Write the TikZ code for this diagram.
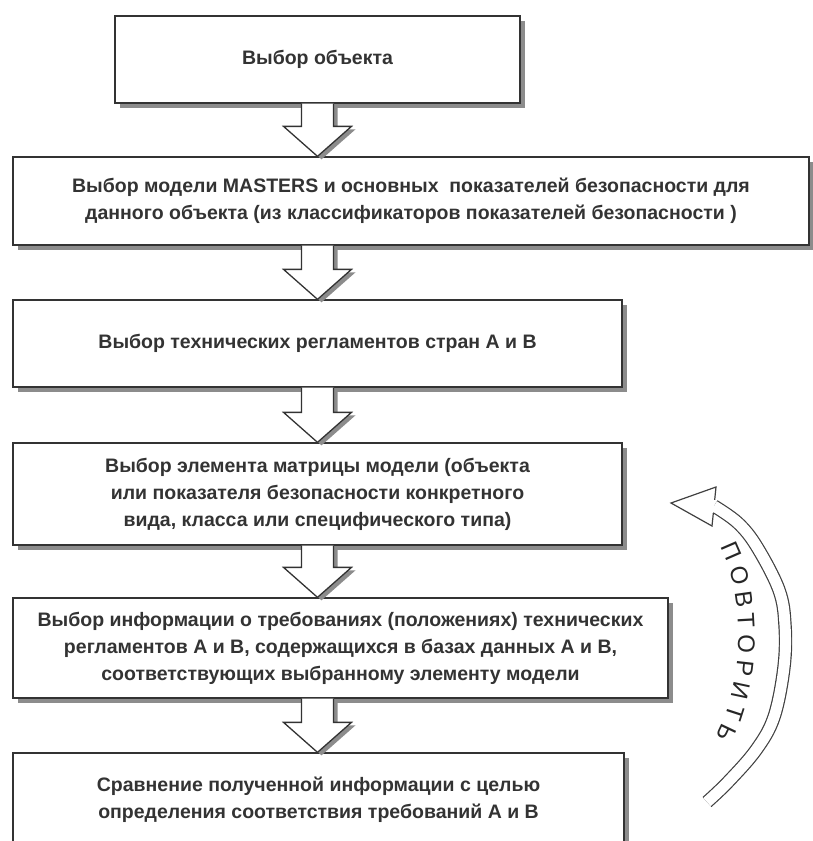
\documentclass[tikz,border=0pt]{standalone}
\usepackage{fontspec}
\setmainfont{Liberation Sans}
\newfontfamily\repfont{Liberation Sans}
\usetikzlibrary{shadows,decorations.text,calc}
\begin{document}
\begin{tikzpicture}[x=1pt,y=-1pt,
  box/.style={draw=black!80, line width=1.3pt, fill=white, align=center, inner sep=0pt,
    font=\fontsize{19.5}{27}\selectfont\bfseries, text=black!80,
    drop shadow={shadow xshift=5pt, shadow yshift=-5pt, fill=black!45, opacity=1}},
  barrow/.style={draw=black!80, line width=1.3pt, fill=white, line join=miter,
    drop shadow={shadow xshift=4pt, shadow yshift=-3pt, fill=black!45, opacity=1}},
  loopband/.style={draw=black!75, line width=1.2pt, double=white, double distance=11pt},
  loophead/.style={draw=black!75, line width=1.2pt, line join=miter}
]
\useasboundingbox (0,0) rectangle (813,841);

\node[box, minimum width=405pt, minimum height=87pt] (b1) at (317.5,59.5) {Выбор объекта};
\node[box, minimum width=796pt, minimum height=88pt] (b2) at (411,201)
  {Выбор модели MASTERS и основных~ показателей безопасности для\\данного объекта (из классификаторов показателей безопасности )};
\node[box, minimum width=609pt, minimum height=87pt] (b3) at (317.5,343.5) {Выбор технических регламентов стран А и В};
\node[box, minimum width=609pt, minimum height=102pt] (b4) at (317.5,494)
  {Выбор элемента матрицы модели (объекта\\или показателя безопасности конкретного\\вида, класса или специфического типа)};
\node[box, minimum width=655pt, minimum height=100pt] (b5) at (340.5,648)
  {Выбор информации о требованиях (положениях) технических\\регламентов А и В, содержащихся в базах данных А и В,\\соответствующих выбранному элементу модели};
\node[box, minimum width=611pt, minimum height=94pt] (b6) at (318.5,800)
  {Сравнение полученной информации с целью\\определения соответствия требований А и В};

\foreach \a/\b in {b1/b2, b2/b3, b3/b4, b4/b5, b5/b6}{
  \path[barrow] let \p1=(b1.south), \p2=(\a.south), \p3=(\b.north) in
    ({\x1-16pt},\y2) -- ({\x1-16pt},{\y3+30pt}) -- ({\x1-34pt},{\y3+30pt}) -- (\x1,\y3)
    -- ({\x1+34pt},{\y3+30pt}) -- ({\x1+16pt},{\y3+30pt}) -- ({\x1+16pt},\y2);
}

\coordinate (rtail) at (707,802);
\coordinate (rend) at (714,506);
\coordinate (rtip) at (671,503);
\coordinate (rtop) at (716,487);
\coordinate (rbot) at (712,526);
\draw[loopband] plot[smooth, tension=0.6] coordinates {(rtail) (728,782) (756,750) (774,717) (784,667) (785,625) (779,590) (757,547) (738,523) (rend)};
\fill[white] (rtip) -- (rtop) -- (rbot) -- cycle;
\draw[loophead] ($(rtop)!0.33!(rbot)$) -- (rtop) -- (rtip) -- (rbot) -- ($(rtop)!0.67!(rbot)$);
\path[decorate, decoration={text along path,
   text={|\repfont\fontsize{24}{24}\selectfont\color{black!85}|ПОВТОРИТЬ},
   text align={fit to path}}]
   (720,547) .. controls (744,592) and (746,682) .. (716,737);
\end{tikzpicture}
\end{document}
